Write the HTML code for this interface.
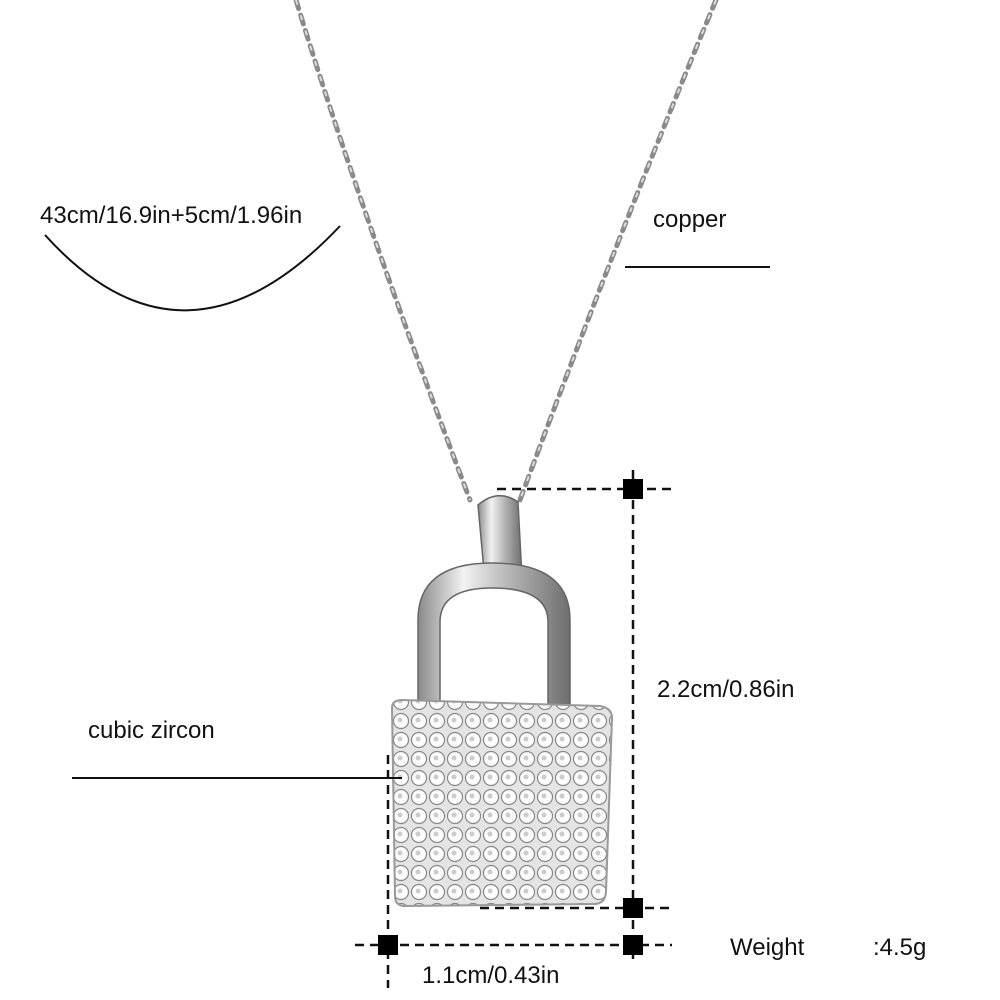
<!DOCTYPE html>
<html><head><meta charset="utf-8"><style>
html,body{margin:0;padding:0;background:#fff;width:1000px;height:1000px;overflow:hidden}
svg{display:block}
text{font-family:"Liberation Sans",sans-serif;fill:#111}
</style></head><body>
<svg width="1000" height="1000" viewBox="0 0 1000 1000" xmlns="http://www.w3.org/2000/svg">
<defs>
<linearGradient id="metal" x1="0" x2="1">
<stop offset="0" stop-color="#8a8a8a"/><stop offset="0.3" stop-color="#f2f2f2"/><stop offset="0.6" stop-color="#b5b5b5"/><stop offset="1" stop-color="#6e6e6e"/>
</linearGradient>
<pattern id="gems" width="36" height="19" patternUnits="userSpaceOnUse" x="392" y="712">
<rect width="36" height="19" fill="#e4e4e4"/>
<circle cx="9" cy="9" r="7.5" fill="#fdfdfd" stroke="#888" stroke-width="1.2"/>
<circle cx="27" cy="9" r="7.5" fill="#fdfdfd" stroke="#888" stroke-width="1.2"/>
<circle cx="8" cy="8" r="2.5" fill="#ccc"/>
<circle cx="26" cy="8" r="2.5" fill="#ccc"/>
</pattern>
</defs>
<!-- chain -->
<g fill="none" stroke="#8a8a8a" stroke-width="5" stroke-linecap="round">
<path d="M296 0 Q360 210 470 500" stroke-dasharray="9 7"/>
<path d="M716 0 Q620 230 520 500" stroke-dasharray="9 7"/>
</g>
<g fill="none" stroke="#dcdcdc" stroke-width="2">
<path d="M296 0 Q360 210 470 500" stroke-dasharray="5 11"/>
<path d="M716 0 Q620 230 520 500" stroke-dasharray="5 11"/>
</g>
<!-- bail -->
<path d="M478 505 Q498 488 518 502 L522 578 Q503 595 485 582 Z" fill="url(#metal)" stroke="#666" stroke-width="1.5"/>
<!-- shackle -->
<path d="M418 705 L418 620 Q418 563 492 563 Q570 563 570 620 L570 705 L548 705 L548 622 Q548 588 492 588 Q440 588 440 622 L440 705 Z" fill="url(#metal)" stroke="#666" stroke-width="1.5"/>
<!-- body -->
<path d="M392 708 Q392 700 402 700 L600 706 Q612 708 612 718 L606 892 Q605 904 594 904 L405 906 Q395 906 395 896 Z" fill="url(#gems)" stroke="#999" stroke-width="2"/>
<!-- dimension lines -->
<g stroke="#111" stroke-width="2.5" stroke-dasharray="9 6" fill="none">
<line x1="497" y1="489" x2="672" y2="489"/>
<line x1="633" y1="470" x2="633" y2="962"/>
<line x1="480" y1="908" x2="672" y2="908"/>
<line x1="355" y1="945" x2="672" y2="945"/>
<line x1="388" y1="755" x2="388" y2="988"/>
</g>
<g fill="#000">
<rect x="623" y="479" width="20" height="20"/>
<rect x="623" y="898" width="20" height="20"/>
<rect x="623" y="935" width="20" height="20"/>
<rect x="378" y="935" width="20" height="20"/>
</g>
<!-- annotations -->
<text x="40" y="223" font-size="24">43cm/16.9in+5cm/1.96in</text>
<path d="M45 235 Q185 390 340 226" fill="none" stroke="#111" stroke-width="2"/>
<text x="653" y="227" font-size="24">copper</text>
<line x1="625" y1="267" x2="770" y2="267" stroke="#111" stroke-width="2"/>
<text x="657" y="697" font-size="24">2.2cm/0.86in</text>
<text x="88" y="738" font-size="24">cubic zircon</text>
<line x1="72" y1="778" x2="402" y2="778" stroke="#111" stroke-width="2"/>
<text x="730" y="955" font-size="24">Weight</text>
<text x="873" y="955" font-size="24">:4.5g</text>
<text x="422" y="983" font-size="24">1.1cm/0.43in</text>
</svg>
</body></html>
